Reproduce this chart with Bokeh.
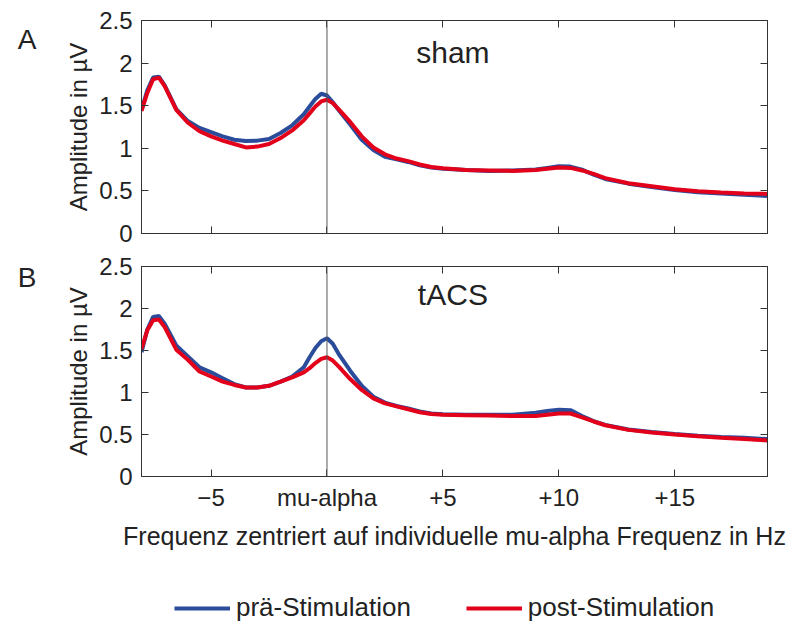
from bokeh.plotting import figure
from bokeh.layouts import column
from bokeh.models import Range1d, FixedTicker, LinearAxis, Span, Label, Legend, LegendItem
from bokeh.embed import file_html
from bokeh.resources import INLINE

# ---------------- data ----------------
freq = [-8, -7.75, -7.5, -7.25, -7, -6.5, -6, -5.5, -5, -4.5, -4, -3.5, -3, -2.5, -2, -1.5,
        -1, -0.75, -0.5, -0.25, 0, 0.25, 0.5, 1, 1.5, 2, 2.5, 3, 3.5, 4, 4.5, 5, 6, 7, 8, 9,
        9.5, 10, 10.5, 11, 11.5, 12, 13, 14, 15, 16, 17, 18, 19]

sham_pre = [1.45, 1.68, 1.83, 1.84, 1.74, 1.46, 1.32, 1.24, 1.19, 1.14, 1.10, 1.085, 1.09, 1.11, 1.18, 1.27,
            1.40, 1.49, 1.58, 1.64, 1.62, 1.54, 1.45, 1.28, 1.10, 0.98, 0.90, 0.87, 0.84, 0.80, 0.775, 0.76,
            0.745, 0.735, 0.74, 0.75, 0.77, 0.79, 0.785, 0.75, 0.69, 0.64, 0.585, 0.545, 0.51, 0.485, 0.47, 0.455, 0.44]
sham_post = [1.44, 1.65, 1.81, 1.83, 1.73, 1.45, 1.30, 1.20, 1.14, 1.09, 1.05, 1.01, 1.02, 1.05, 1.12, 1.21,
             1.33, 1.41, 1.49, 1.55, 1.57, 1.53, 1.46, 1.31, 1.14, 1.01, 0.93, 0.88, 0.85, 0.81, 0.78, 0.765,
             0.745, 0.74, 0.735, 0.745, 0.76, 0.775, 0.77, 0.74, 0.70, 0.65, 0.59, 0.555, 0.52, 0.495, 0.48, 0.47, 0.465]
tacs_pre = [1.48, 1.75, 1.90, 1.91, 1.82, 1.56, 1.43, 1.30, 1.24, 1.17, 1.10, 1.06, 1.06, 1.08, 1.13, 1.19,
            1.30, 1.42, 1.53, 1.61, 1.645, 1.58, 1.46, 1.26, 1.08, 0.95, 0.88, 0.84, 0.81, 0.775, 0.75, 0.74,
            0.735, 0.735, 0.735, 0.76, 0.78, 0.795, 0.79, 0.72, 0.66, 0.615, 0.56, 0.53, 0.505, 0.485, 0.47, 0.46, 0.445]
tacs_post = [1.52, 1.74, 1.86, 1.87, 1.78, 1.51, 1.39, 1.25, 1.19, 1.13, 1.09, 1.06, 1.06, 1.08, 1.13, 1.18,
             1.24, 1.29, 1.35, 1.40, 1.42, 1.38, 1.31, 1.16, 1.03, 0.93, 0.87, 0.835, 0.80, 0.765, 0.745, 0.735,
             0.73, 0.725, 0.72, 0.72, 0.735, 0.75, 0.75, 0.705, 0.655, 0.61, 0.555, 0.525, 0.50, 0.48, 0.46, 0.445, 0.43]

x_ticks = [-5, 0, 5, 10, 15]
x_tick_labels = ["\u22125", "mu-alpha", "+5", "+10", "+15"]
y_ticks = [0, 0.5, 1, 1.5, 2, 2.5]
y_tick_labels = ["0", "0.5", "1", "1.5", "2", "2.5"]
panel_titles = ["sham", "tACS"]
panel_letters = ["A", "B"]
series_names = ["prä-Stimulation", "post-Stimulation"]
y_label = "Amplitude in µV"
x_label = "Frequenz zentriert auf individuelle mu-alpha Frequenz in Hz"

BLUE = "#2b4c9b"
RED = "#e2001a"
FONT = "Liberation Sans"
AXC = "#333333"
TXT = "#222222"


def style_axis(ax, labels=None, size="24px"):
    ax.major_tick_in = 7
    ax.major_tick_out = 0
    ax.minor_tick_in = 0
    ax.minor_tick_out = 0
    ax.axis_line_color = AXC
    ax.major_tick_line_color = AXC
    ax.major_label_text_font = FONT
    ax.major_label_text_color = TXT
    if labels is None:
        ax.major_label_text_alpha = 0
        ax.major_label_text_font_size = "1px"
        ax.major_label_standoff = 0
    else:
        ax.major_label_overrides = labels
        ax.major_label_text_font_size = size


def make_panel(pre, post, title, title_pos, letter, letter_y, show_x, height, btop, bbottom):
    p = figure(width=800, height=height, output_backend="svg", toolbar_location=None,
               x_range=Range1d(-8, 19), y_range=Range1d(0, 2.5),
               min_border_left=141, min_border_right=33,
               min_border_top=btop, min_border_bottom=bbottom,
               x_axis_location=None, y_axis_location=None)
    p.grid.visible = False
    p.outline_line_color = AXC
    p.background_fill_color = "white"
    p.border_fill_color = "white"

    xt = FixedTicker(ticks=x_ticks)
    yt = FixedTicker(ticks=y_ticks)

    bottom = LinearAxis(ticker=xt)
    if show_x:
        style_axis(bottom, dict(zip(x_ticks, x_tick_labels)))
        bottom.major_label_standoff = 7
        bottom.axis_label = x_label
        bottom.axis_label_text_font = FONT
        bottom.axis_label_text_font_size = "25px"
        bottom.axis_label_text_font_style = "normal"
        bottom.axis_label_text_color = TXT
        bottom.axis_label_standoff = 8
    else:
        style_axis(bottom)
    p.add_layout(bottom, "below")

    top = LinearAxis(ticker=xt)
    style_axis(top)
    p.add_layout(top, "above")

    left = LinearAxis(ticker=yt)
    style_axis(left, dict(zip(y_ticks, y_tick_labels)))
    left.major_label_standoff = 9
    left.axis_label = y_label
    left.axis_label_text_font = FONT
    left.axis_label_text_font_size = "24px"
    left.axis_label_text_font_style = "normal"
    left.axis_label_text_color = TXT
    left.axis_label_standoff = 4
    p.add_layout(left, "left")

    # panel letter (A / B), drawn as the single label of an outer, line-less axis
    letter_ax = LinearAxis(ticker=FixedTicker(ticks=[letter_y]),
                           major_label_overrides={letter_y: letter})
    letter_ax.axis_line_alpha = 0
    letter_ax.major_tick_line_alpha = 0
    letter_ax.major_tick_in = 0
    letter_ax.major_tick_out = 0
    letter_ax.minor_tick_in = 0
    letter_ax.minor_tick_out = 0
    letter_ax.major_label_standoff = 26
    letter_ax.major_label_text_font = FONT
    letter_ax.major_label_text_font_size = "28px"
    letter_ax.major_label_text_color = TXT
    p.add_layout(letter_ax, "left")

    right = LinearAxis(ticker=yt)
    style_axis(right)
    p.add_layout(right, "right")

    p.add_layout(Span(location=0, dimension="height", line_color="#555555", line_width=1))

    r_pre = p.line(freq, pre, line_color=BLUE, line_width=4)
    r_post = p.line(freq, post, line_color=RED, line_width=4)

    p.add_layout(Label(x=title_pos[0], y=title_pos[1], text=title, text_font=FONT, text_font_size="30px",
                       text_color=TXT, text_baseline="middle"))
    return p


p1 = make_panel(sham_pre, sham_post, panel_titles[0], (3.85, 2.13), panel_letters[0], 2.28,
                False, 249, 20, 16)
p2 = make_panel(tacs_pre, tacs_post, panel_titles[1], (3.92, 2.17), panel_letters[1], 2.37,
                True, 303, 17, 74)

# legend strip below the panels (frame is aligned with the panels' frames by the column)
p3 = figure(width=800, height=71, output_backend="svg", toolbar_location=None,
            x_range=Range1d(0, 1), y_range=Range1d(0, 1),
            min_border=0, x_axis_location=None, y_axis_location=None)
p3.grid.visible = False
p3.outline_line_color = None
nan = float("nan")
lb = p3.line([nan], [nan], line_color=BLUE, line_width=4)
lr = p3.line([nan], [nan], line_color=RED, line_width=4)
legend = Legend(items=[LegendItem(label=series_names[0], renderers=[lb]),
                       LegendItem(label=series_names[1], renderers=[lr])],
                orientation="horizontal", location=(33, 0))
legend.label_text_font = FONT
legend.label_text_font_size = "26px"
legend.label_text_color = TXT
legend.glyph_width = 56
legend.label_standoff = 6
legend.spacing = 55
legend.border_line_alpha = 0
legend.background_fill_alpha = 0
legend.margin = 0
legend.padding = 0
p3.add_layout(legend)

layout = column(p1, p2, p3)
open("out.html", "w").write(file_html(layout, INLINE))
